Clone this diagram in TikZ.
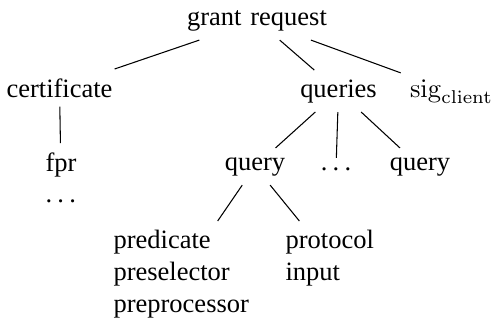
\documentclass[tikz,border=0pt]{standalone}
\usepackage[no-math]{fontspec}
\setmainfont{Liberation Serif}
\newcommand{\mydots}{.\hspace{0.2em}.\hspace{0.2em}.}
\begin{document}
\begin{tikzpicture}[x=0.3774pt,y=-0.3774pt,
  every node/.style={font=\fontsize{10}{12}\selectfont, inner sep=3.333pt},
  lbl/.style={anchor=base},
  multi/.style={anchor=north west, align=left},
  edge/.style={line width=0.4pt}]
\useasboundingbox (0,0) rectangle (495,322);
\node[lbl] (gr) at (257,25) {grant\hspace{0.33em}request};
\node[lbl] (cert) at (59.5,97) {certificate};
\node[lbl] (qs) at (338.5,97) {queries};
\node[lbl] (sig) at (451.5,97) {$\mathrm{sig}_{\mathrm{client}}$};
\node[multi] (fpr) at (36.2,143) {fpr\\\mydots};
\node[lbl] (q1) at (255,170) {query};
\node[lbl] (qd) at (336,170) {\mydots};
\node[lbl] (q2) at (420,170) {query};
\node[multi] (pred) at (104.2,221) {predicate\\preselector\\preprocessor};
\node[multi] (prot) at (276.2,221) {protocol\\input};
\draw[edge] (gr) -- (cert);
\draw[edge] (gr) -- (qs);
\draw[edge] (gr) -- (sig);
\draw[edge] (cert) -- (fpr);
\draw[edge] (qs) -- (q1);
\draw[edge] (qs) -- (qd);
\draw[edge] (qs) -- (q2);
\draw[edge] (q1) -- (pred);
\draw[edge] (q1) -- (prot);
\end{tikzpicture}
\end{document}
